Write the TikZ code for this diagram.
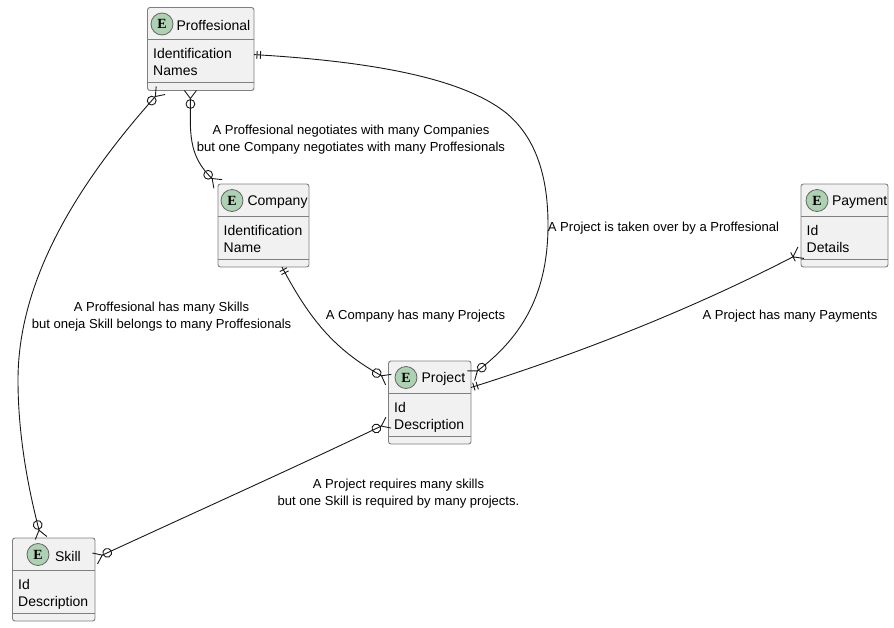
\documentclass[tikz,border=0pt]{standalone}
\usepackage{fontspec}
\setmainfont{Liberation Sans}
\newfontfamily\spotfont{Liberation Serif}
\usepackage{xcolor}
\usetikzlibrary{arrows.meta,positioning,calc}
\definecolor{boxfill}{HTML}{F1F1F1}
\definecolor{boxline}{HTML}{7F7F7F}
\definecolor{relline}{HTML}{181818}
\definecolor{spotfill}{HTML}{ADD1B2}
% zero or many
\pgfdeclarearrow{
  name=CrowZero,
  setup code={\pgfarrowssettipend{0pt}\pgfarrowssetlineend{-8pt}
    \pgfarrowssetvisualbackend{-8pt}\pgfarrowssetbackend{-18pt}},
  drawing code={
    \pgfpathmoveto{\pgfqpoint{0pt}{6pt}}\pgfpathlineto{\pgfqpoint{-8pt}{0pt}}
    \pgfpathlineto{\pgfqpoint{0pt}{-6pt}}
    \pgfpathcircle{\pgfqpoint{-13.5pt}{0pt}}{4.4pt}
    \pgfusepathqstroke}
}
% one or many
\pgfdeclarearrow{
  name=CrowOne,
  setup code={\pgfarrowssettipend{0pt}\pgfarrowssetlineend{-9pt}
    \pgfarrowssetvisualbackend{-9pt}\pgfarrowssetbackend{-10pt}},
  drawing code={
    \pgfpathmoveto{\pgfqpoint{0pt}{6.5pt}}\pgfpathlineto{\pgfqpoint{-9pt}{0pt}}
    \pgfpathlineto{\pgfqpoint{0pt}{-6.5pt}}
    \pgfpathmoveto{\pgfqpoint{-9pt}{5pt}}\pgfpathlineto{\pgfqpoint{-9pt}{-5pt}}
    \pgfusepathqstroke}
}
% exactly one
\pgfdeclarearrow{
  name=OneOne,
  setup code={\pgfarrowssettipend{0pt}\pgfarrowssetlineend{0pt}
    \pgfarrowssetvisualbackend{0pt}\pgfarrowssetbackend{-7pt}},
  drawing code={
    \pgfpathmoveto{\pgfqpoint{-3pt}{4pt}}\pgfpathlineto{\pgfqpoint{-3pt}{-4pt}}
    \pgfpathmoveto{\pgfqpoint{-6.5pt}{4pt}}\pgfpathlineto{\pgfqpoint{-6.5pt}{-4pt}}
    \pgfusepathqstroke}
}
\tikzset{
  entity/.style={draw=boxline, fill=boxfill, line width=.9pt, rounded corners=2.5pt,
    minimum height=83pt, outer sep=0pt, inner sep=0pt},
  sepline/.style={draw=boxline, line width=.9pt},
  spot/.style={circle, draw=black!60, fill=spotfill, line width=.8pt, minimum size=22pt,
    inner sep=0pt, font=\fontsize{14}{14}\spotfont\bfseries},
  title/.style={inner sep=0pt, font=\fontsize{14}{17}\selectfont},
  attrs/.style={inner sep=0pt, align=left, anchor=north west, font=\fontsize{14}{17}\selectfont},
  lbl/.style={inner sep=0pt, align=center, font=\fontsize{13.05}{17}\selectfont},
  rel/.style={draw=relline, line width=.9pt}
}
\newcommand{\erentity}[7]{%
  \node[entity, minimum width=#3pt] (#1) at (#2) {};
  \draw[sepline] ($(#1.north west)+(0,32)$) -- ($(#1.north east)+(0,32)$);
  \draw[sepline] ($(#1.south west)+(0,-8)$) -- ($(#1.south east)+(0,-8)$);
  \node[spot] (#1-spot) at ($(#1.north west)+(#4,16.5)$) {E};
  \node[title, right=#5pt of #1-spot] (#1-title) at ($(#1-spot.east)+(0,1.5)$) {#6};
  \node[attrs] (#1-attrs) at ($(#1.north west)+(5.5,41)$) {#7};
}

\begin{document}
\begin{tikzpicture}[x=1pt,y=-1pt]
  \useasboundingbox (0,0) rectangle (894,627);

  % entities
  \erentity{prof}{200.75,49}{106.5}{14.5}{3}{Proffesional}{Identification\\Names}
  \erentity{comp}{263.5,225.5}{91}{14}{4}{Company}{Identification\\Name}
  \erentity{proj}{429.75,402.5}{82.5}{17.5}{4}{Project}{Id\\Description}
  \erentity{skill}{53.75,579.5}{82.5}{25.5}{5.5}{Skill}{Id\\Description}
  \erentity{pay}{844.5,225.5}{87}{16}{3.5}{Payment}{Id\\Details}

  % relations
  \draw[rel, {CrowZero}-{CrowZero}] (prof.-134)
    .. controls (90,170) and (18,270) .. (18,380)
    .. controls (18,440) and (30,495) .. (skill.107);
  \draw[rel, {CrowZero}-{CrowZero}] (prof.-104)
    .. controls (190.5,130) and (187,155) .. (comp.north west);
  \draw[rel, {OneOne}-{CrowZero}] (prof.-6)
    .. controls (400,63) and (470,85) .. (505,112)
    .. controls (540,140) and (548,185) .. (548,225)
    .. controls (548,290) and (525,335) .. (proj.33);
  \draw[rel, {OneOne}-{CrowZero}] (comp.-66)
    .. controls (310,320) and (335,350) .. (proj.151);
  \draw[rel, {CrowZero}-{CrowZero}] (proj.-154)
    .. controls (300,465) and (200,510) .. (skill.27);
  \draw[rel, {OneOne}-{CrowOne}] (proj.20)
    .. controls (590,350) and (700,305) .. (pay.-148);

  % labels
  \node[lbl] (l-profcomp) at (351,139.5) {A Proffesional negotiates with many Companies\\but one Company negotiates with many Proffesionals};
  \node[lbl] (l-profproj) at (663.5,228) {A Project is taken over by a Proffesional};
  \node[lbl] (l-paypro) at (790,316) {A Project has many Payments};
  \node[lbl] (l-compproj) at (415.5,316) {A Company has many Projects};
  \node[lbl] (l-profskill) at (161.5,316.5) {A Proffesional has many Skills\\but oneja Skill belongs to many Proffesionals};
  \node[lbl] (l-projskill) at (398.5,493.5) {A Project requires many skills\\but one Skill is required by many projects.};
\end{tikzpicture}
\end{document}
